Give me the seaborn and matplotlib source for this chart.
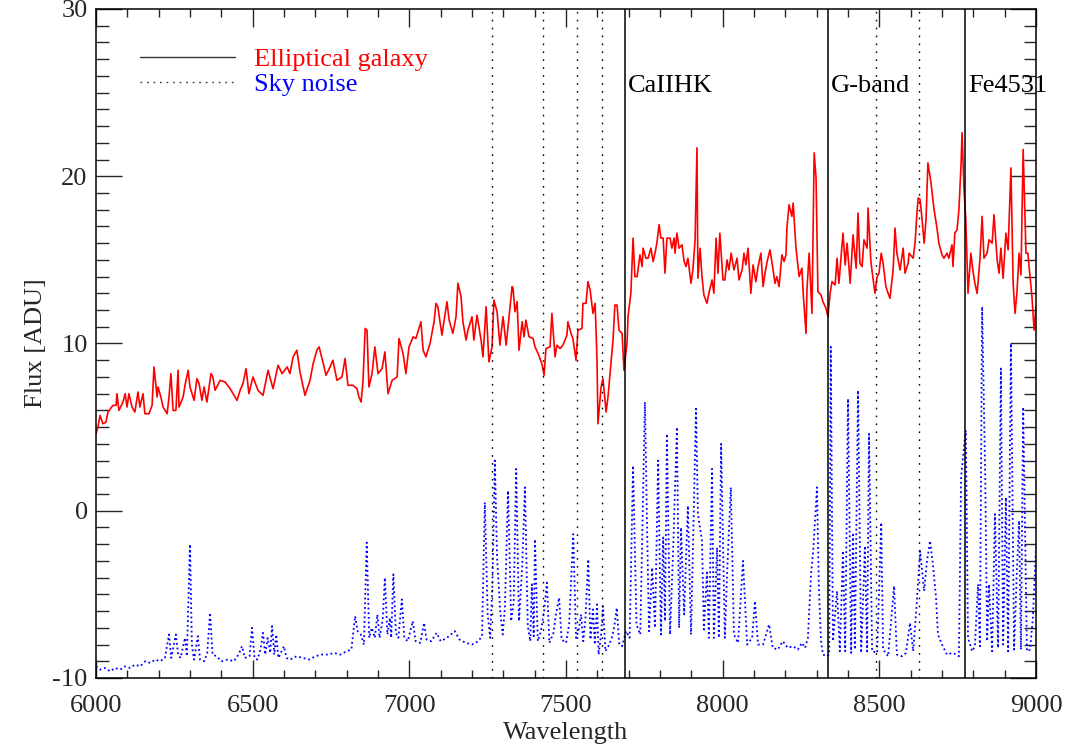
import numpy as np
import pandas as pd
import seaborn as sns
import matplotlib
matplotlib.use("Agg")
import matplotlib.pyplot as plt
from matplotlib.lines import Line2D
from matplotlib.ticker import MultipleLocator

# ---------------- data ----------------
gal_wave = [6000, 6006, 6013, 6022, 6032, 6038, 6054, 6064, 6067, 6073, 6086, 6093, 6099, 6105,
            6115, 6124, 6134, 6140, 6150, 6156, 6169, 6179, 6185, 6195, 6198, 6207, 6214, 6227,
            6233, 6239, 6246, 6255, 6262, 6265, 6278, 6284, 6294, 6300, 6313, 6322, 6329, 6338,
            6345, 6354, 6367, 6373, 6380, 6396, 6412, 6428, 6450, 6460, 6469, 6479, 6488, 6501,
            6517, 6533, 6549, 6565, 6581, 6594, 6610, 6619, 6629, 6641, 6651, 6667, 6683, 6693,
            6705, 6712, 6724, 6734, 6747, 6756, 6769, 6785, 6795, 6804, 6820, 6833, 6839, 6846,
            6852, 6859, 6865, 6871, 6881, 6890, 6900, 6913, 6922, 6932, 6945, 6961, 6967, 6980,
            6989, 6999, 7012, 7021, 7037, 7044, 7053, 7066, 7079, 7085, 7091, 7104, 7120, 7127,
            7139, 7149, 7155, 7165, 7171, 7181, 7187, 7200, 7206, 7216, 7229, 7235, 7245, 7254,
            7264, 7270, 7280, 7289, 7299, 7309, 7315, 7328, 7331, 7337, 7344, 7350, 7360, 7366,
            7372, 7382, 7395, 7401, 7411, 7423, 7430, 7436, 7449, 7455, 7465, 7471, 7481, 7490,
            7503, 7506, 7516, 7522, 7532, 7538, 7551, 7554, 7564, 7570, 7577, 7586, 7593, 7599,
            7602, 7612, 7618, 7628, 7634, 7650, 7656, 7663, 7669, 7679, 7685, 7695, 7698, 7707,
            7714, 7720, 7727, 7736, 7743, 7746, 7755, 7762, 7771, 7778, 7784, 7790, 7797, 7803,
            7810, 7816, 7822, 7832, 7838, 7845, 7848, 7854, 7861, 7870, 7877, 7883, 7889, 7899,
            7905, 7912, 7918, 7921, 7928, 7934, 7940, 7950, 7956, 7966, 7972, 7979, 7985, 7991,
            8001, 8007, 8014, 8020, 8027, 8036, 8046, 8052, 8062, 8068, 8074, 8081, 8090, 8097,
            8106, 8113, 8122, 8129, 8135, 8142, 8151, 8157, 8167, 8173, 8180, 8189, 8196, 8202,
            8205, 8212, 8221, 8225, 8234, 8244, 8253, 8257, 8266, 8269, 8276, 8285, 8292, 8298,
            8304, 8314, 8320, 8330, 8336, 8343, 8349, 8359, 8365, 8371, 8384, 8391, 8397, 8407,
            8416, 8426, 8432, 8438, 8445, 8451, 8461, 8464, 8473, 8480, 8486, 8493, 8499, 8506,
            8512, 8521, 8528, 8534, 8544, 8550, 8556, 8566, 8576, 8582, 8592, 8595, 8608, 8614,
            8620, 8624, 8630, 8636, 8643, 8649, 8655, 8665, 8674, 8684, 8690, 8700, 8706, 8716,
            8722, 8732, 8735, 8741, 8748, 8754, 8761, 8764, 8770, 8776, 8783, 8792, 8799, 8805,
            8812, 8821, 8828, 8834, 8844, 8850, 8860, 8866, 8876, 8882, 8888, 8895, 8904, 8911,
            8920, 8927, 8933, 8939, 8946, 8952, 8959, 8968, 8974, 8981, 8987, 8994, 9000]
gal_flux = [4.6, 5.0, 5.7, 5.2, 5.3, 5.9, 6.3, 6.3, 7.0, 6.0, 6.5, 7.0, 6.2, 7.0,
            6.2, 5.9, 7.1, 6.2, 7.0, 5.8, 5.8, 6.3, 8.6, 6.8, 7.4, 6.8, 6.2, 5.8,
            6.8, 8.2, 6.0, 6.0, 8.4, 6.2, 6.8, 7.5, 8.4, 7.4, 6.6, 7.9, 7.6, 6.6,
            7.4, 6.5, 8.2, 8.0, 7.2, 7.8, 7.7, 7.3, 6.6, 7.2, 7.6, 8.5, 7.0, 8.0,
            7.2, 6.9, 8.4, 7.3, 8.7, 8.2, 8.6, 8.2, 9.2, 9.6, 8.3, 6.9, 7.8, 8.8,
            9.6, 9.8, 8.9, 8.1, 8.6, 9.0, 7.8, 8.0, 9.1, 7.5, 7.5, 7.3, 6.8, 6.5,
            7.7, 10.9, 10.8, 7.4, 8.2, 9.8, 8.2, 8.5, 9.5, 7.0, 7.8, 8.0, 10.3, 9.4,
            8.2, 9.8, 10.4, 10.3, 11.3, 9.6, 9.2, 10.0, 11.3, 12.4, 12.2, 10.5, 12.5, 11.4,
            10.6, 11.6, 13.6, 12.8, 11.3, 10.2, 10.8, 11.6, 10.2, 11.7, 10.2, 9.2, 12.2, 8.9,
            9.8, 12.6, 11.9, 9.9, 11.6, 9.9, 11.0, 13.4, 13.3, 11.9, 12.5, 9.6, 11.3, 10.4,
            11.4, 10.4, 10.3, 9.8, 9.4, 8.8, 8.1, 9.7, 9.8, 11.8, 9.2, 9.9, 9.7, 9.9,
            10.5, 11.3, 10.6, 10.3, 9.0, 10.8, 10.9, 12.4, 12.4, 13.7, 13.2, 11.8, 12.4, 9.0,
            5.2, 7.4, 7.9, 5.9, 6.8, 10.2, 12.3, 12.3, 10.8, 10.6, 8.4, 10.1, 11.6, 13.0,
            16.3, 14.0, 14.0, 15.3, 14.6, 15.7, 15.1, 15.1, 15.7, 14.9, 15.4, 16.0, 17.1, 16.3,
            16.3, 14.2, 16.3, 16.3, 15.7, 16.3, 15.4, 16.6, 15.7, 15.9, 14.9, 14.6, 15.1, 13.6,
            14.4, 16.2, 21.7, 13.9, 15.7, 14.0, 12.9, 12.4, 13.0, 13.8, 13.0, 16.3, 14.2, 16.6,
            13.8, 13.8, 15.0, 14.4, 15.4, 14.4, 15.1, 13.8, 14.4, 15.4, 14.7, 15.7, 13.0, 14.7,
            13.7, 14.6, 15.4, 13.4, 14.2, 14.9, 15.6, 14.9, 13.6, 14.0, 13.4, 15.3, 14.9, 15.3,
            16.9, 18.3, 17.6, 18.4, 15.7, 14.0, 14.5, 13.0, 10.6, 13.2, 15.4, 11.8, 21.4, 19.9,
            13.1, 12.9, 12.5, 12.1, 11.6, 13.0, 13.7, 13.5, 15.1, 13.6, 16.6, 14.7, 16.0, 13.6,
            16.5, 14.5, 17.8, 14.8, 14.6, 16.2, 15.7, 18.1, 14.9, 13.9, 13.0, 14.0, 14.2, 15.4,
            14.8, 13.4, 13.0, 12.7, 14.4, 16.9, 15.4, 14.4, 15.7, 14.2, 14.8, 15.4, 15.1, 16.0,
            17.8, 18.7, 18.6, 17.5, 16.0, 17.4, 20.8, 19.6, 18.1, 16.9, 16.0, 15.3, 15.1, 15.4,
            15.1, 15.9, 14.6, 16.6, 16.8, 18.0, 20.8, 22.6, 19.3, 17.4, 13.0, 15.4, 14.3, 13.6,
            13.0, 15.0, 17.6, 15.1, 15.4, 16.2, 16.0, 17.7, 15.0, 14.2, 15.7, 13.9, 16.6, 15.6,
            20.5, 13.6, 11.8, 13.0, 15.4, 14.1, 21.6, 15.4, 15.4, 14.0, 12.8, 10.8, 12.2]

sky_wave = [6000, 6013, 6029, 6045, 6061, 6077, 6093, 6109, 6125, 6141, 6157, 6173, 6189, 6205,
            6220, 6233, 6240, 6255, 6262, 6270, 6284, 6290, 6300, 6306, 6313, 6325, 6332, 6345,
            6355, 6364, 6372, 6385, 6400, 6420, 6440, 6455, 6466, 6475, 6490, 6498, 6506, 6515,
            6525, 6533, 6540, 6548, 6556, 6562, 6569, 6575, 6582, 6600, 6608, 6620, 6640, 6660,
            6680, 6700, 6720, 6740, 6760, 6780, 6800, 6815, 6827, 6835, 6845, 6855, 6864, 6872,
            6880, 6890, 6898, 6905, 6915, 6922, 6930, 6938, 6942, 6949, 6957, 6965, 6976, 6984,
            6995, 7011, 7020, 7035, 7047, 7055, 7070, 7087, 7100, 7120, 7145, 7160, 7180, 7200,
            7220, 7232, 7241, 7250, 7258, 7265, 7273, 7280, 7290, 7298, 7305, 7315, 7325, 7333,
            7341, 7350, 7360, 7369, 7378, 7386, 7391, 7397, 7401, 7410, 7420, 7430, 7439, 7447,
            7460, 7468, 7478, 7486, 7500, 7510, 7523, 7532, 7540, 7548, 7555, 7562, 7571, 7578,
            7586, 7592, 7599, 7604, 7612, 7618, 7626, 7638, 7648, 7655, 7662, 7670, 7679, 7692,
            7703, 7714, 7725, 7737, 7752, 7759, 7765, 7775, 7784, 7794, 7803, 7810, 7816, 7822,
            7832, 7842, 7854, 7861, 7867, 7877, 7889, 7899, 7915, 7921, 7934, 7940, 7950, 7956,
            7966, 7972, 7982, 7988, 7995, 8007, 8014, 8026, 8036, 8049, 8065, 8078, 8094, 8103,
            8113, 8129, 8148, 8160, 8176, 8192, 8208, 8224, 8240, 8253, 8263, 8272, 8282, 8289,
            8301, 8307, 8314, 8320, 8333, 8340, 8345, 8352, 8365, 8374, 8384, 8391, 8400, 8410,
            8416, 8422, 8432, 8442, 8454, 8461, 8467, 8477, 8493, 8506, 8512, 8528, 8547, 8556,
            8572, 8585, 8598, 8608, 8620, 8630, 8643, 8652, 8662, 8671, 8681, 8687, 8700, 8716,
            8732, 8748, 8754, 8761, 8770, 8776, 8783, 8796, 8805, 8815, 8821, 8828, 8838, 8844,
            8850, 8860, 8869, 8879, 8888, 8895, 8904, 8911, 8920, 8930, 8939, 8946, 8952, 8959,
            8971, 8981, 8990, 9000]
sky_flux = [-9.3, -9.5, -9.4, -9.6, -9.4, -9.5, -9.3, -9.4, -9.2, -9.3, -9.0, -9.1, -8.9, -9.0,
            -8.8, -7.4, -8.8, -7.4, -8.6, -8.8, -7.6, -8.7, -2.0, -8.0, -8.9, -7.5, -8.9, -9.0,
            -8.5, -6.1, -8.6, -8.7, -9.0, -8.9, -9.0, -8.6, -8.1, -8.8, -8.7, -7.0, -8.8, -8.9,
            -8.3, -7.3, -8.6, -7.6, -8.5, -6.9, -8.6, -7.4, -8.8, -8.1, -8.8, -8.9, -8.7, -8.8,
            -8.9, -8.7, -8.6, -8.6, -8.5, -8.6, -8.4, -8.3, -6.3, -7.2, -7.4, -8.0, -1.9, -7.6,
            -7.0, -7.6, -6.2, -7.6, -6.5, -4.0, -7.4, -6.4, -7.6, -3.8, -7.3, -7.6, -5.3, -7.6,
            -7.8, -6.6, -7.8, -7.9, -6.7, -7.7, -7.8, -7.3, -7.8, -7.6, -7.2, -7.7, -7.9, -8.0,
            -7.8, -7.5, 0.5, -6.2, -7.6, -4.5, 3.0, -2.8, -6.0, -7.4, -5.8, 1.2, -6.6, -5.5,
            2.5, -6.6, -3.4, 1.4, -6.9, -7.8, -4.4, -7.5, -1.7, -7.8, -7.2, -6.0, -4.3, -7.9,
            -7.3, -6.2, -5.2, -7.7, -7.9, -6.8, -1.4, -7.6, -7.2, -6.2, -7.8, -6.5, -2.9, -7.7,
            -5.9, -8.0, -5.6, -8.6, -7.4, -5.7, -8.4, -8.0, -7.5, -6.8, -5.8, -8.0, -8.1, -7.2,
            -7.6, 2.7, -6.8, -7.4, 6.5, -1.3, -7.2, -3.4, -7.0, 3.0, -7.4, -1.6, -6.6, 4.6,
            -7.4, -2.3, 5.0, -7.0, -1.0, -6.2, 0.3, -7.4, 6.1, -0.2, -1.8, -7.1, -3.7, -7.6,
            2.5, -7.6, -2.2, -7.6, 4.0, -7.6, -3.8, 1.4, -7.4, -7.9, -3.0, -8.0, -7.6, -5.4,
            -8.0, -8.0, -6.8, -8.2, -8.3, -7.8, -8.2, -8.1, -8.3, -7.9, -8.2, -7.6, -3.8, -2.4,
            1.4, -4.6, -7.8, -8.6, -8.7, -8.6, 9.8, -7.8, -4.8, -8.4, -2.4, -8.4, 6.7, -8.5,
            -1.3, -8.3, 7.2, -8.5, -2.1, -8.4, 4.6, -8.4, -8.5, -0.7, -8.3, -8.7, -4.5, -8.6,
            -8.7, -8.5, -6.7, -8.4, -5.4, -2.4, -4.8, -3.0, -1.8, -3.2, -5.2, -7.4, -8.0, -8.6,
            -8.5, -8.6, -8.7, 2.0, 3.8, 4.8, -7.6, -8.4, -8.1, -4.4, -8.1, 12.2, 2.0, -7.8,
            -4.4, -8.4, -0.2, -8.2, 8.5, -8.0, 0.8, -8.4, 10.0, -8.3, -3.6, -0.6, -8.3, 6.2,
            -8.4, -8.3, -6.4, -2.2]

feature_names = ["CaIIHK", "G-band", "Fe4531"]
feature_wave = [7688, 8336, 8773]
skyline_wave = [7264, 7427, 7535, 7616, 8489, 8627]
legend_labels = ["Elliptical galaxy", "Sky noise"]

# ---------------- plot ----------------
sns.set_style("ticks")
plt.rcParams["font.family"] = ["Liberation Serif", "DejaVu Serif"]
plt.rcParams["axes.unicode_minus"] = False

fig = plt.figure(figsize=(10.71, 7.49), dpi=100)
ax = fig.add_axes([96 / 1071, 1 - 678 / 749, 940 / 1071, 669 / 749])

gal = pd.DataFrame({"wave": gal_wave, "flux": gal_flux})
sky = pd.DataFrame({"wave": sky_wave, "flux": sky_flux})

sns.lineplot(data=gal, x="wave", y="flux", color="red", lw=1.2, ax=ax,
             estimator=None, sort=False)
sns.lineplot(data=sky, x="wave", y="flux", color="blue", lw=1.3, ax=ax,
             estimator=None, sort=False, linestyle=(0, (1.0, 1.6)))

for w in feature_wave:
    ax.axvline(w, color="black", lw=1.1)
for w in skyline_wave:
    ax.axvline(w, color="black", lw=1.0, linestyle=(0, (1.2, 4.5)))

for name, w in zip(feature_names, feature_wave):
    ax.text(w + 10, 25.4, name, fontsize=19, ha="left", va="center", color="black")

ax.set_xlim(6000, 9000)
ax.set_ylim(-10, 30)
ax.xaxis.set_major_locator(MultipleLocator(500))
ax.xaxis.set_minor_locator(MultipleLocator(100))
ax.yaxis.set_major_locator(MultipleLocator(10))
ax.yaxis.set_minor_locator(MultipleLocator(1))
ax.tick_params(axis="x", which="major", direction="in", length=13, width=1.0,
               top=True, bottom=True, labelsize=19, pad=12)
ax.tick_params(axis="x", which="minor", direction="in", length=6, width=1.0,
               top=True, bottom=True)
ax.tick_params(axis="y", which="major", direction="in", length=19, width=1.0,
               left=True, right=True, labelsize=19, pad=6)
ax.tick_params(axis="y", which="minor", direction="in", length=9, width=1.0,
               left=True, right=True)
for s in ax.spines.values():
    s.set_visible(True)
    s.set_linewidth(1.1)
    s.set_color("black")

ax.set_xlabel("Wavelength", fontsize=19, labelpad=4)
ax.set_ylabel("Flux [ADU]", fontsize=19, labelpad=4)

handles = [Line2D([], [], color="#333333", lw=1.0),
           Line2D([], [], color="#333333", lw=1.0, linestyle=(0, (1.2, 3.5)))]
leg = ax.legend(handles, legend_labels, loc="upper left",
                bbox_to_anchor=(0.036, 0.958), frameon=False, fontsize=19,
                handlelength=3.6, handletextpad=0.7, labelspacing=0.05,
                labelcolor=["red", "blue"], borderaxespad=0.0)

fig.savefig("out.png", dpi=100)
